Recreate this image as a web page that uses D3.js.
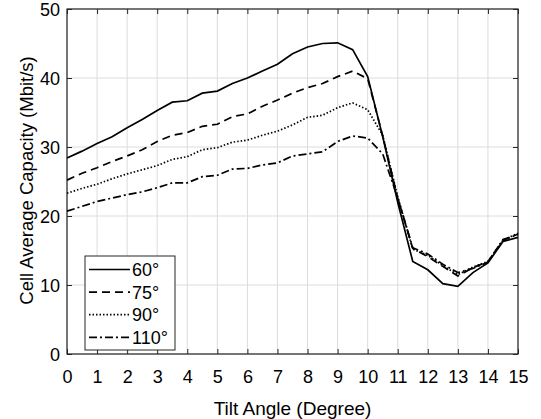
<!DOCTYPE html>
<html>
<head>
<meta charset="utf-8">
<script src="https://cdn.jsdelivr.net/npm/d3@7"></script>
<style>
  body { margin: 0; background: #fff; }
  text { font-family: "Liberation Sans", Arial, Helvetica, sans-serif; }
</style>
</head>
<body>
<svg id="chart" width="541" height="419"></svg>
<script>
// tilt angles, half-degree steps
var tilt = d3.range(0, 15.01, 0.5);

var s60 = [28.4, 29.4, 30.5, 31.5, 32.8, 34.0, 35.3, 36.5, 36.7, 37.8, 38.1, 39.2, 40.0, 41.0, 42.0, 43.5,
           44.5, 45.0, 45.1, 44.1, 40.2, 31.5, 22.0, 13.4, 12.2, 10.2, 9.8, 11.8, 13.2, 16.3, 16.9];
var s75 = [25.2, 26.2, 27.0, 27.9, 28.7, 29.6, 30.8, 31.7, 32.1, 33.0, 33.3, 34.4, 34.8, 35.9, 36.8, 37.8,
           38.6, 39.2, 40.2, 41.0, 39.9, 31.6, 22.6, 15.3, 14.1, 12.7, 11.3, 12.5, 13.4, 16.4, 17.4];
var s90 = [23.3, 24.0, 24.6, 25.4, 26.1, 26.7, 27.3, 28.2, 28.6, 29.6, 29.9, 30.7, 31.0, 31.7, 32.3, 33.2,
           34.3, 34.6, 35.7, 36.4, 35.4, 31.7, 22.8, 15.2, 14.3, 12.8, 11.5, 12.6, 13.4, 16.5, 17.5];
var s110 = [20.7, 21.4, 22.1, 22.6, 23.1, 23.5, 24.1, 24.8, 24.8, 25.7, 25.9, 26.8, 26.9, 27.4, 27.7, 28.7,
            29.0, 29.3, 30.8, 31.6, 31.3, 29.0, 22.6, 15.4, 14.5, 13.0, 11.8, 12.4, 13.3, 16.6, 17.3];

var seriesNames = ["60°", "75°", "90°", "110°"];
var seriesData = [s60, s75, s90, s110];
var dashes = [null, "8,5", "1.5,2", "8,3,2,3"];

var xTicks = d3.range(0, 16, 1);
var yTicks = [0, 10, 20, 30, 40, 50];

var svg = d3.select("#chart"),
    margin = {top: 9, right: 23, bottom: 65, left: 67},
    width = 541 - margin.left - margin.right,
    height = 419 - margin.top - margin.bottom;

var x = d3.scaleLinear().domain([0, 15]).range([0, width]);
var y = d3.scaleLinear().domain([0, 50]).range([height, 0]);

var g = svg.append("g")
    .attr("transform", "translate(" + margin.left + "," + margin.top + ")");

// grid
g.append("g").selectAll("line")
    .data(xTicks)
    .enter().append("line")
    .attr("x1", function(d) { return x(d); })
    .attr("x2", function(d) { return x(d); })
    .attr("y1", 0).attr("y2", height)
    .attr("stroke", "#dcdcdc").attr("stroke-width", 1);
g.append("g").selectAll("line")
    .data(yTicks)
    .enter().append("line")
    .attr("y1", function(d) { return y(d); })
    .attr("y2", function(d) { return y(d); })
    .attr("x1", 0).attr("x2", width)
    .attr("stroke", "#dcdcdc").attr("stroke-width", 1);

// axes
var axisColor = "#262626";
function styleAxis(sel, showText) {
    sel.select(".domain").remove();
    sel.selectAll(".tick line").attr("stroke", axisColor).attr("stroke-width", 1);
    sel.selectAll(".tick text")
        .attr("fill", "#000")
        .style("font-size", "18px")
        .style("display", showText ? null : "none");
}

var xa = g.append("g")
    .attr("transform", "translate(0," + height + ")")
    .call(d3.axisBottom(x).tickValues(xTicks).tickSize(-5))
    .call(styleAxis, true);
xa.selectAll(".tick text").attr("y", 28.5).attr("dy", 0);

g.append("g")
    .call(d3.axisTop(x).tickValues(xTicks).tickSize(-5))
    .call(styleAxis, false);
var ya = g.append("g")
    .call(d3.axisLeft(y).tickValues(yTicks).tickSize(-5))
    .call(styleAxis, true);
ya.selectAll(".tick text").attr("x", -7).attr("dy", "0.35em");

g.append("g")
    .attr("transform", "translate(" + width + ",0)")
    .call(d3.axisRight(y).tickValues(yTicks).tickSize(-5))
    .call(styleAxis, false);

g.append("rect")
    .attr("width", width).attr("height", height)
    .attr("fill", "none")
    .attr("stroke", axisColor).attr("stroke-width", 1.2);

// lines
var line = d3.line()
    .x(function(d, i) { return x(tilt[i]); })
    .y(function(d) { return y(d); });

seriesData.forEach(function(s, i) {
    g.append("path")
        .datum(s)
        .attr("d", line)
        .attr("fill", "none")
        .attr("stroke", "#000")
        .attr("stroke-width", 1.7)
        .attr("stroke-dasharray", dashes[i]);
});

// legend
var leg = g.append("g").attr("transform", "translate(18,247)");
leg.append("rect")
    .attr("width", 90).attr("height", 94)
    .attr("fill", "#fff")
    .attr("stroke", axisColor).attr("stroke-width", 1);
seriesNames.forEach(function(name, i) {
    var yy = 13.5 + i * 22.6;
    leg.append("line")
        .attr("x1", 4).attr("x2", 45)
        .attr("y1", yy).attr("y2", yy)
        .attr("stroke", "#000").attr("stroke-width", 1.7)
        .attr("stroke-dasharray", dashes[i]);
    leg.append("text")
        .attr("x", 47).attr("y", yy + 6.5)
        .style("font-size", "18px")
        .text(name);
});

// axis titles
svg.append("text")
    .attr("x", margin.left + width / 2)
    .attr("y", 415)
    .attr("text-anchor", "middle")
    .style("font-size", "19px")
    .text("Tilt Angle (Degree)");

svg.append("text")
    .attr("text-anchor", "middle")
    .attr("transform", "translate(33," + 180.5 + ")rotate(-90)")
    .style("font-size", "18.5px")
    .text("Cell Average Capacity (Mbit/s)");
</script>
</body>
</html>
